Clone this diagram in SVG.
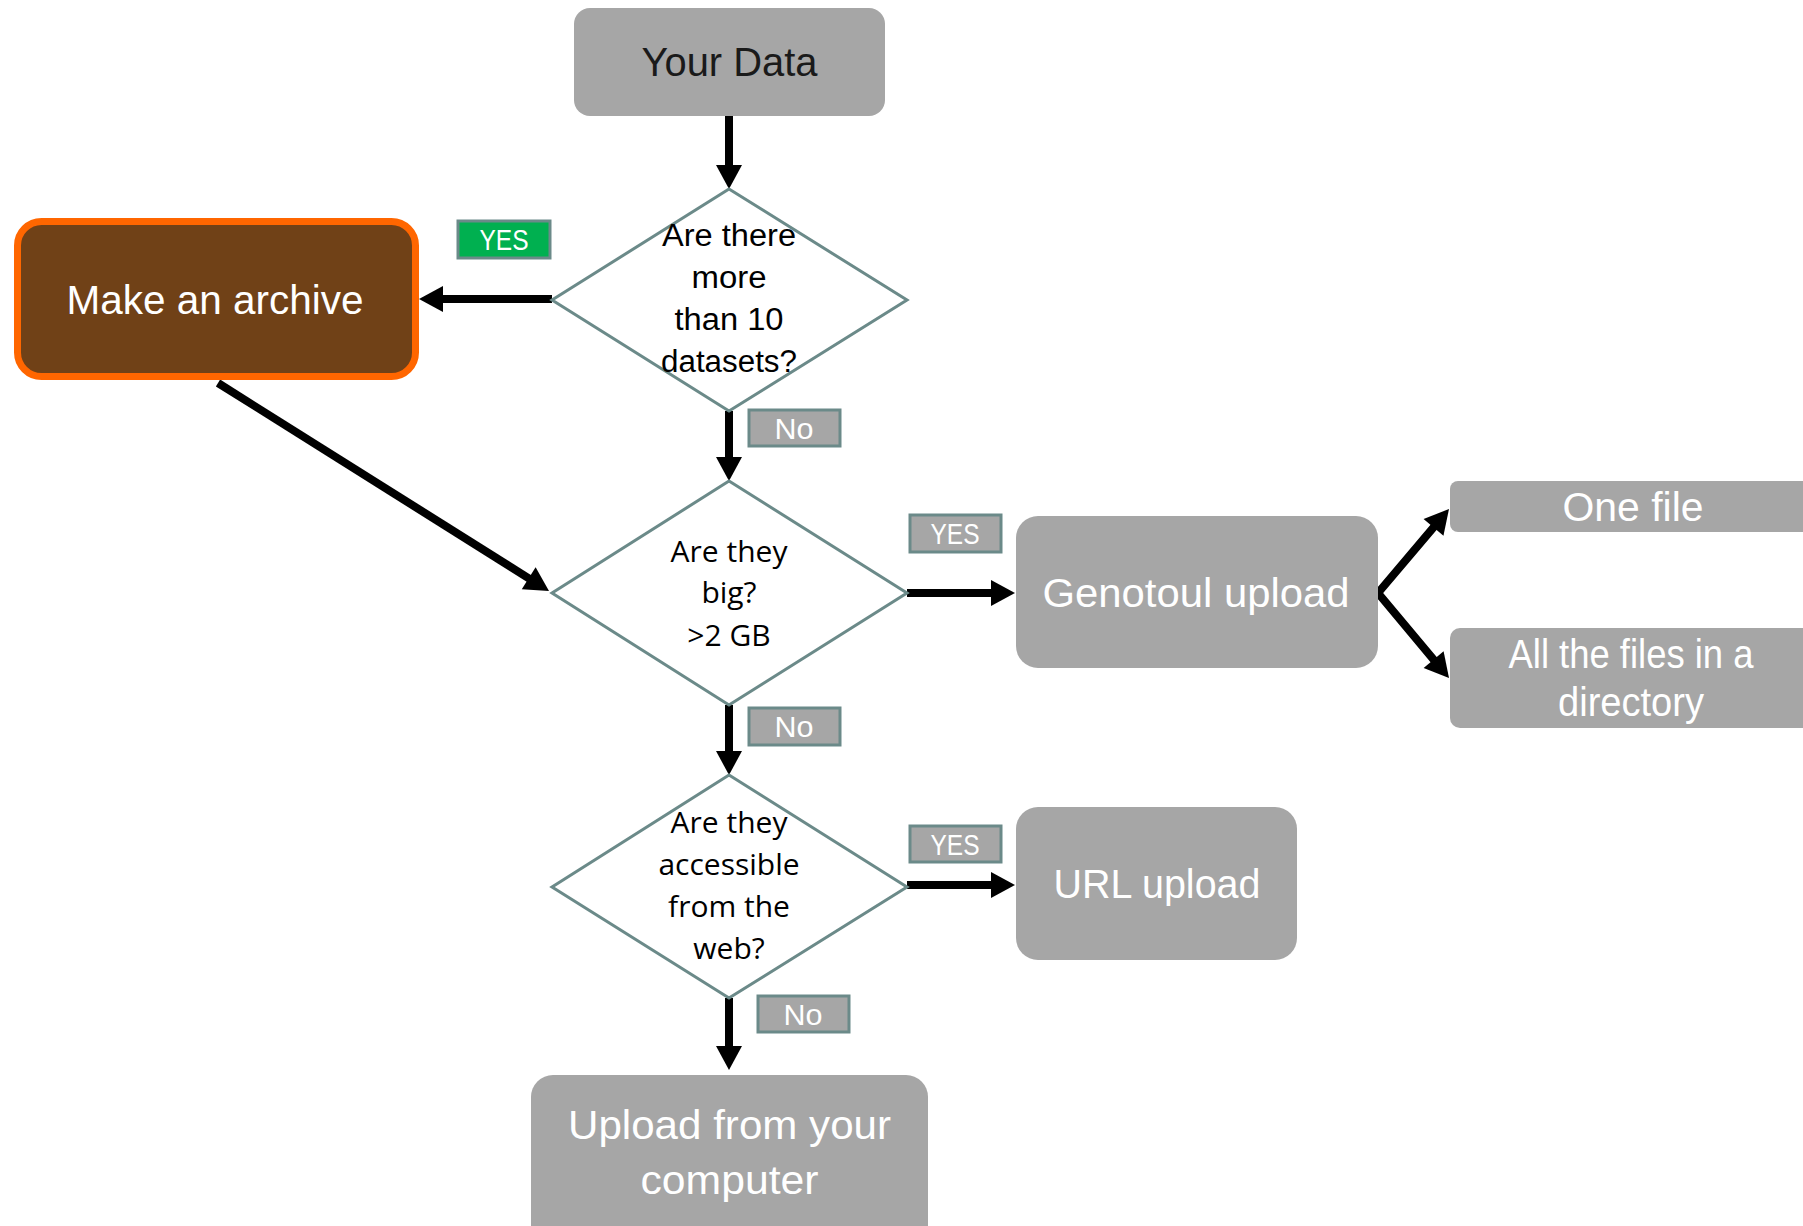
<svg xmlns="http://www.w3.org/2000/svg" width="1803" height="1226" viewBox="0 0 1803 1226">
<style>
.node{fill:#A6A6A6;}
.ntext{font-family:"Liberation Sans",Arial,sans-serif;font-size:40px;fill:#FFFFFF;text-anchor:middle;}
.dia{fill:#FFFFFF;stroke:#6B8A89;stroke-width:3;}
.dtext{font-family:"Liberation Sans",Arial,sans-serif;font-size:31px;fill:#000000;text-anchor:middle;}
.otext{font-family:"Open Sans","Liberation Sans",sans-serif;font-size:30px;fill:#000000;text-anchor:middle;}
.lab{fill:#A6A6A6;stroke:#6B8A89;stroke-width:3;}
.ltext{font-family:"Liberation Sans",Arial,sans-serif;font-size:30px;fill:#FFFFFF;text-anchor:middle;}
.conn{stroke:#000000;stroke-width:8;fill:none;marker-end:url(#arrow);}
</style>
<defs>
<marker id="arrow" markerUnits="userSpaceOnUse" markerWidth="26" markerHeight="28" viewBox="0 -14 24 28" refX="2" refY="0" orient="auto">
<path d="M0,-13 L24,0 L0,13 z" fill="#000000"/>
</marker>
</defs>
<rect width="1803" height="1226" fill="#FFFFFF"/>

<g id="connectors">
<line class="conn" x1="729" y1="116" x2="729" y2="167"/>
<line class="conn" x1="552" y1="299" x2="441" y2="299"/>
<line class="conn" x1="729" y1="411" x2="729" y2="459"/>
<line class="conn" x1="218" y1="383" x2="530.4" y2="579.3"/>
<line class="conn" x1="907" y1="593" x2="993" y2="593"/>
<path class="conn" d="M1382,593 L1378,593 L1434.8,525.8" stroke-linejoin="miter"/>
<path class="conn" d="M1382,593 L1378,593 L1434.9,661.1" stroke-linejoin="miter"/>
<line class="conn" x1="729" y1="705" x2="729" y2="753"/>
<line class="conn" x1="907" y1="885" x2="993" y2="885"/>
<line class="conn" x1="729" y1="998" x2="729" y2="1048"/>
</g>

<g id="your-data">
<rect class="node" x="574" y="8" width="311" height="108" rx="16"/>
<text class="ntext" x="729.5" y="76" style="fill:#1A1A1A" textLength="176" lengthAdjust="spacingAndGlyphs">Your Data</text>
</g>

<g id="decision-datasets">
<polygon class="dia" points="729,189 907,300 729,411 552,300"/>
<text class="dtext" x="729" y="246" textLength="134" lengthAdjust="spacingAndGlyphs">Are there</text>
<text class="dtext" x="729" y="288" textLength="75" lengthAdjust="spacingAndGlyphs">more</text>
<text class="dtext" x="729" y="330" textLength="109" lengthAdjust="spacingAndGlyphs">than 10</text>
<text class="dtext" x="729" y="372" textLength="136" lengthAdjust="spacingAndGlyphs">datasets?</text>
</g>

<g id="make-archive">
<rect x="17.5" y="221.5" width="398" height="155" rx="24" fill="#704117" stroke="#FF6600" stroke-width="7"/>
<text class="ntext" x="215" y="314" textLength="297" lengthAdjust="spacingAndGlyphs">Make an archive</text>
</g>

<g id="label-yes-1">
<rect x="458" y="221" width="92" height="37" fill="#00B050" stroke="#6B8A89" stroke-width="3"/>
<text class="ltext" x="504" y="250" textLength="49" lengthAdjust="spacingAndGlyphs">YES</text>
</g>

<g id="label-no-1">
<rect class="lab" x="749" y="410" width="91" height="36"/>
<text class="ltext" x="794" y="439" textLength="39" lengthAdjust="spacingAndGlyphs">No</text>
</g>

<g id="decision-big">
<polygon class="dia" points="729,481 907,593 729,705 552,593"/>
<text class="otext" x="729" y="562">Are they</text>
<text class="otext" x="729" y="603">big?</text>
<text class="otext" x="729" y="646">&gt;2 GB</text>
</g>

<g id="label-yes-2">
<rect class="lab" x="910" y="515" width="91" height="37"/>
<text class="ltext" x="955" y="544" textLength="49" lengthAdjust="spacingAndGlyphs">YES</text>
</g>

<g id="genotoul-upload">
<rect class="node" x="1016" y="516" width="362" height="152" rx="22"/>
<text class="ntext" x="1196" y="607" textLength="307" lengthAdjust="spacingAndGlyphs">Genotoul upload</text>
</g>

<g id="one-file">
<rect class="node" x="1450" y="481" width="370" height="51" rx="8"/>
<text class="ntext" x="1633" y="521" textLength="141" lengthAdjust="spacingAndGlyphs">One file</text>
</g>

<g id="all-files">
<rect class="node" x="1450" y="628" width="370" height="100" rx="10"/>
<text class="ntext" x="1631" y="668" textLength="245" lengthAdjust="spacingAndGlyphs">All the files in a</text>
<text class="ntext" x="1631" y="716" textLength="146" lengthAdjust="spacingAndGlyphs">directory</text>
</g>

<g id="label-no-2">
<rect class="lab" x="749" y="708" width="91" height="37"/>
<text class="ltext" x="794" y="737" textLength="39" lengthAdjust="spacingAndGlyphs">No</text>
</g>

<g id="decision-web">
<polygon class="dia" points="729,775 907,887 729,998 552,887"/>
<text class="otext" x="729" y="833">Are they</text>
<text class="otext" x="729" y="875">accessible</text>
<text class="otext" x="729" y="917">from the</text>
<text class="otext" x="729" y="959">web?</text>
</g>

<g id="label-yes-3">
<rect class="lab" x="910" y="826" width="91" height="36"/>
<text class="ltext" x="955" y="855" textLength="49" lengthAdjust="spacingAndGlyphs">YES</text>
</g>

<g id="url-upload">
<rect class="node" x="1016" y="807" width="281" height="153" rx="22"/>
<text class="ntext" x="1157" y="898" textLength="207" lengthAdjust="spacingAndGlyphs">URL upload</text>
</g>

<g id="label-no-3">
<rect class="lab" x="758" y="996" width="91" height="36"/>
<text class="ltext" x="803" y="1025" textLength="39" lengthAdjust="spacingAndGlyphs">No</text>
</g>

<g id="upload-computer">
<rect class="node" x="531" y="1075" width="397" height="180" rx="22"/>
<text class="ntext" x="729.5" y="1139" textLength="323" lengthAdjust="spacingAndGlyphs">Upload from your</text>
<text class="ntext" x="729.5" y="1194" textLength="178" lengthAdjust="spacingAndGlyphs">computer</text>
</g>
</svg>
